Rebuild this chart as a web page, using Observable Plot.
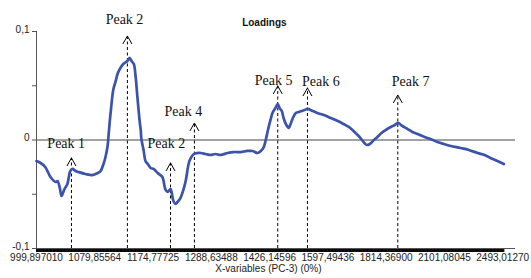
<!DOCTYPE html>
<html>
<head>
<meta charset="utf-8">
<script src="https://cdn.jsdelivr.net/npm/d3@7"></script>
<script src="https://cdn.jsdelivr.net/npm/@observablehq/plot@0.6"></script>
<style>
  html, body { margin: 0; padding: 0; background: #fff; }
  #chart svg { display: block; }
</style>
</head>
<body>
<div id="chart"></div>
<script>
// ---- Data ----
const title = "Loadings";
const xTitle = "X-variables (PC-3) (0%)";
const xTickIdx = [0, 100, 200, 300, 400, 500, 600, 700, 800];
const xTickLabels = ["999,897010", "1079,85564", "1174,77725", "1288,63488", "1426,14596",
                     "1597,49436", "1814,36900", "2101,08045", "2493,01270"];
const yTicks = [-0.1, -0.05, 0, 0.05, 0.1];
const yTickLabels = ["-0,1", "", "0", "", "0,1"];
const nVariables = 803;

const varIdx = [0,7,15,24,33,36,40,43,48,53,58,62,67,72,84,96,105,110,115,118,122,124,127,132,136,139,144,149,156,160,163,167,170,173,177,179,180,184,187,191,196,201,208,216,221,225,230,235,239,242,247,252,256,261,264,270,276,282,290,299,307,316,328,338,350,362,371,379,385,390,393,398,402,405,410,414,417,421,424,428,431,433,436,440,445,450,455,460,465,474,482,493,505,517,527,536,544,551,556,561,567,572,579,585,592,599,608,615,620,628,637,645,654,666,676,688,699,711,728,742,757,769,779,791,802];
const loadings = [-0.0194,-0.0212,-0.0249,-0.0341,-0.0387,-0.0378,-0.0442,-0.0516,-0.0452,-0.0406,-0.0286,-0.0267,-0.0286,-0.0295,-0.0313,-0.0323,-0.0304,-0.0286,-0.0221,-0.0166,-0.0055,0.0065,0.0240,0.0470,0.0544,0.0608,0.0664,0.0700,0.0728,0.0756,0.0728,0.0700,0.0590,0.0406,0.0175,0.0083,0.0009,-0.0101,-0.0194,-0.0221,-0.0258,-0.0267,-0.0304,-0.0341,-0.0452,-0.0479,-0.0452,-0.0562,-0.0590,-0.0571,-0.0535,-0.0461,-0.0378,-0.0221,-0.0175,-0.0129,-0.0120,-0.0120,-0.0129,-0.0138,-0.0129,-0.0138,-0.0120,-0.0111,-0.0111,-0.0101,-0.0101,-0.0120,-0.0101,-0.0065,-0.0009,0.0111,0.0194,0.0249,0.0295,0.0332,0.0295,0.0267,0.0203,0.0147,0.0120,0.0111,0.0147,0.0203,0.0249,0.0258,0.0267,0.0276,0.0286,0.0267,0.0249,0.0230,0.0203,0.0175,0.0147,0.0120,0.0083,0.0046,0.0018,-0.0018,-0.0046,-0.0037,0.0000,0.0028,0.0065,0.0092,0.0120,0.0138,0.0157,0.0129,0.0101,0.0074,0.0055,0.0028,0.0009,-0.0018,-0.0037,-0.0055,-0.0074,-0.0092,-0.0120,-0.0138,-0.0166,-0.0194,-0.0221];

const peakNames = ["Peak 1", "Peak 2", "Peak 2", "Peak 4", "Peak 5", "Peak 6", "Peak 7"];
const peakIdx = [60, 156, 230, 271, 414, 465, 620];
const peakTop = [-0.0166, 0.0959, -0.0212, 0.0157, 0.0498, 0.0479, 0.0415];
const peakLabelIdx = [51, 151, 223, 252, 407, 488, 642];
const peakLabelY = [-0.0037, 0.1115, -0.0037, 0.0258, 0.0544, 0.0535, 0.0535];

// ---- Tables built from the arrays ----
const series = varIdx.map((x, i) => ({x, y: loadings[i]}));
const peaks = peakNames.map((name, i) => ({
  name, x: peakIdx[i], top: peakTop[i], lx: peakLabelIdx[i], ly: peakLabelY[i]
}));
const xTicks = xTickIdx.map((x, i) => ({x, label: xTickLabels[i]}));
const yTickRows = yTicks.map((y, i) => ({y, label: yTickLabels[i]}));
const denseTicks = d3.range(0, nVariables);

const chevron = {
  draw(context) {
    context.moveTo(-4.5, 8);
    context.lineTo(0, 0);
    context.lineTo(4.5, 8);
  }
};

const xMax = 822;
const pxPerIdx = (531 - 36 - 16) / xMax;

const chart = Plot.plot({
  width: 531,
  height: 278,
  marginLeft: 36,
  marginRight: 16,
  marginTop: 31,
  marginBottom: 30,
  style: {fontFamily: "'Liberation Sans', Arial, sans-serif", fontSize: "10px", background: "#fff", color: "#222"},
  x: {domain: [0, xMax], axis: null},
  y: {domain: [-0.1, 0.1], axis: null},
  marks: [
    // dense variable ticks (thick bar under the x axis)
    Plot.ruleX(denseTicks, {x: d => d, y1: -0.1, y2: -0.1 - 0.2 / 217 * 4, stroke: "#000", strokeWidth: 1}),
    // x axis line
    Plot.ruleY([-0.1], {x1: 0, x2: xMax, stroke: "#555", strokeWidth: 1}),
    // zero line
    Plot.ruleY([0], {x1: 0, x2: xMax, stroke: "#444", strokeWidth: 1}),
    // y axis line
    Plot.ruleX([0], {y1: -0.1, y2: 0.1, stroke: "#555", strokeWidth: 1}),
    // y ticks
    Plot.ruleY(yTickRows, {y: "y", x1: 0, x2: -4 / pxPerIdx, stroke: "#555", strokeWidth: 1}),
    Plot.text(yTickRows, {y: "y", x: 0, text: "label", dx: -7, dy: -2, textAnchor: "end", fill: "#222", fontSize: 10}),
    // x tick labels
    Plot.text(xTicks, {x: "x", y: -0.1, text: "label", dy: 9.5, fill: "#222", fontSize: 10}),
    // dashed peak lines
    Plot.ruleX(peaks, {x: "x", y1: -0.1, y2: "top", stroke: "#000", strokeWidth: 1, strokeDasharray: "3,2.5"}),
    // the loadings line
    Plot.line(series, {x: "x", y: "y", stroke: "#3c53ab", strokeWidth: 2.7, curve: "catmull-rom"}),
    // arrow heads
    Plot.dot(peaks, {x: "x", y: "top", symbol: chevron, r: 4, fill: "none", stroke: "#000", strokeWidth: 1}),
    // peak labels
    Plot.text(peaks, {x: "lx", y: "ly", text: "name", fontFamily: "'Liberation Serif', 'Times New Roman', serif", fontSize: 14, fill: "#111"}),
    // title
    Plot.text([title], {x: 391, frameAnchor: "top", dy: -13, text: d => d, fontSize: 10, fontWeight: "bold", fill: "#111"}),
    // x axis title
    Plot.text([xTitle], {x: 398, frameAnchor: "bottom", dy: 23.5, text: d => d, fontSize: 10, fill: "#222"})
  ]
});
document.getElementById("chart").appendChild(chart);
</script>
</body>
</html>
